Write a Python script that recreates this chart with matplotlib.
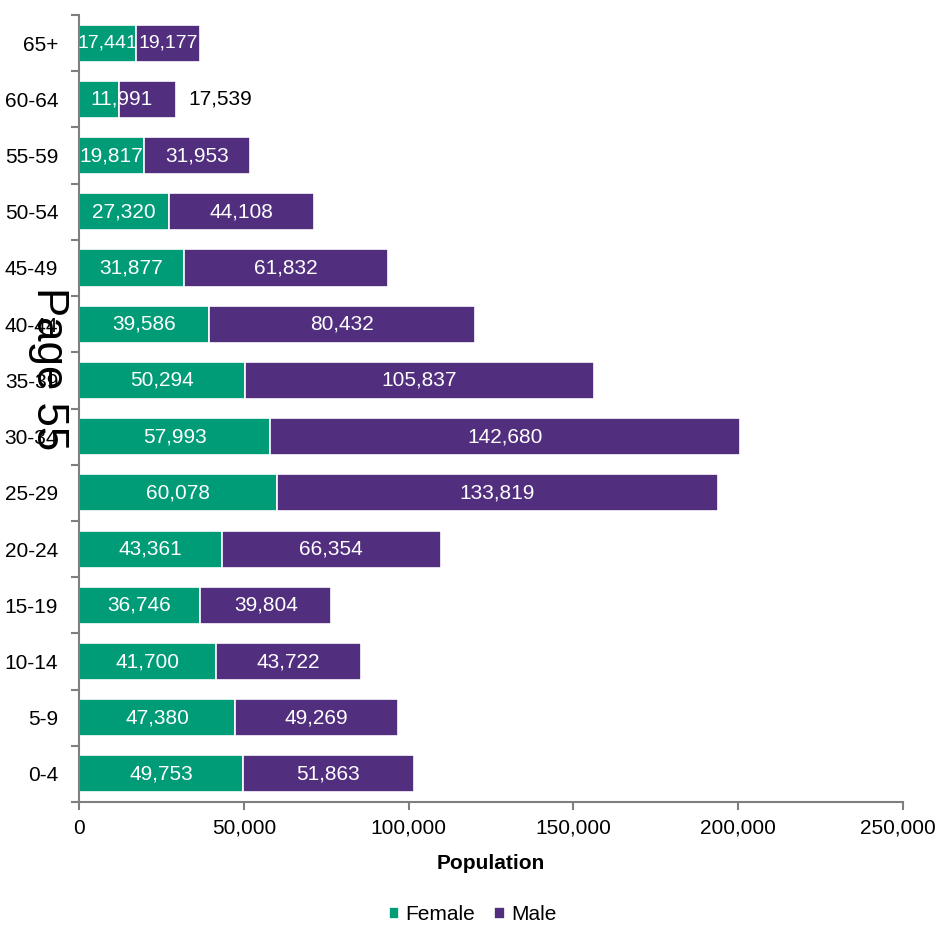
import matplotlib
matplotlib.use("Agg")
import matplotlib.pyplot as plt
import matplotlib.transforms as mtransforms
import numpy as np

categories = ["65+", "60-64", "55-59", "50-54", "45-49", "40-44", "35-39",
              "30-34", "25-29", "20-24", "15-19", "10-14", "5-9", "0-4"]
female = [17441, 11991, 19817, 27320, 31877, 39586, 50294,
          57993, 60078, 43361, 36746, 41700, 47380, 49753]
male = [19177, 17539, 31953, 44108, 61832, 80432, 105837,
        142680, 133819, 66354, 39804, 43722, 49269, 51863]
x_ticks = [0, 50000, 100000, 150000, 200000, 250000]

GREEN = "#009B77"
PURPLE = "#522E7F"
FONT = ["Liberation Sans", "DejaVu Sans"]
plt.rcParams["font.family"] = FONT

fig = plt.figure(figsize=(9.36, 9.27), dpi=100)
ax = fig.add_axes([0.0844, 0.1348, 0.8803, 0.849])

y = np.arange(len(categories))
ax.barh(y, female, height=0.66, color=GREEN, edgecolor="white", linewidth=1.2, label="Female")
ax.barh(y, male, left=female, height=0.66, color=PURPLE, edgecolor="white", linewidth=1.2, label="Male")

fs = 15
for i, (f, m) in enumerate(zip(female, male)):
    if categories[i] == "60-64":
        ax.text(f + 1000, i, f"{f:,}", ha="center", va="center", color="white", fontsize=fs)
        ax.text(f + m + 13300, i, f"{m:,}", ha="center", va="center", color="black", fontsize=fs)
    elif categories[i] == "65+":
        ax.text(f / 2, i, f"{f:,}", ha="center", va="center", color="white", fontsize=fs - 1)
        ax.text(f + m / 2, i, f"{m:,}", ha="center", va="center", color="white", fontsize=fs - 1)
    else:
        ax.text(f / 2, i, f"{f:,}", ha="center", va="center", color="white", fontsize=fs)
        ax.text(f + m / 2, i, f"{m:,}", ha="center", va="center", color="white", fontsize=fs)

ax.set_xlim(0, 250000)
ax.set_ylim(len(categories) - 0.5, -0.5)
ax.set_xticks(x_ticks)
ax.set_xticklabels([f"{v:,}" for v in x_ticks], fontsize=fs)
ax.set_yticks(y)
ax.set_yticklabels(categories, fontsize=fs)
ax.set_yticks(np.arange(len(categories) + 1) - 0.5, minor=True)
ax.tick_params(axis="y", which="major", length=0, pad=15)
ax.tick_params(axis="y", which="minor", length=6, width=1.5, color="#7f7f7f", direction="out")
ax.tick_params(axis="x", length=6, width=1.5, color="#7f7f7f", pad=6)
last = ax.get_xticklabels()[-1]
last.set_transform(last.get_transform() + mtransforms.ScaledTranslation(-5 / 100, 0, fig.dpi_scale_trans))

for s in ["top", "right"]:
    ax.spines[s].set_visible(False)
for s in ["left", "bottom"]:
    ax.spines[s].set_color("#7f7f7f")
    ax.spines[s].set_linewidth(1.5)

ax.set_xlabel("Population", fontsize=fs, fontweight="bold", labelpad=12)

leg = fig.legend(loc="center", bbox_to_anchor=(0.505, 0.013), ncol=2, frameon=False,
                 fontsize=fs, handlelength=0.5, handleheight=0.5, handletextpad=0.3,
                 columnspacing=0.9)

fig.text(48 / 936, 1 - 369 / 927, "Page 55", rotation=-90, ha="center", va="center",
         fontsize=31.5, color="black")

fig.savefig("out.png", dpi=100)
